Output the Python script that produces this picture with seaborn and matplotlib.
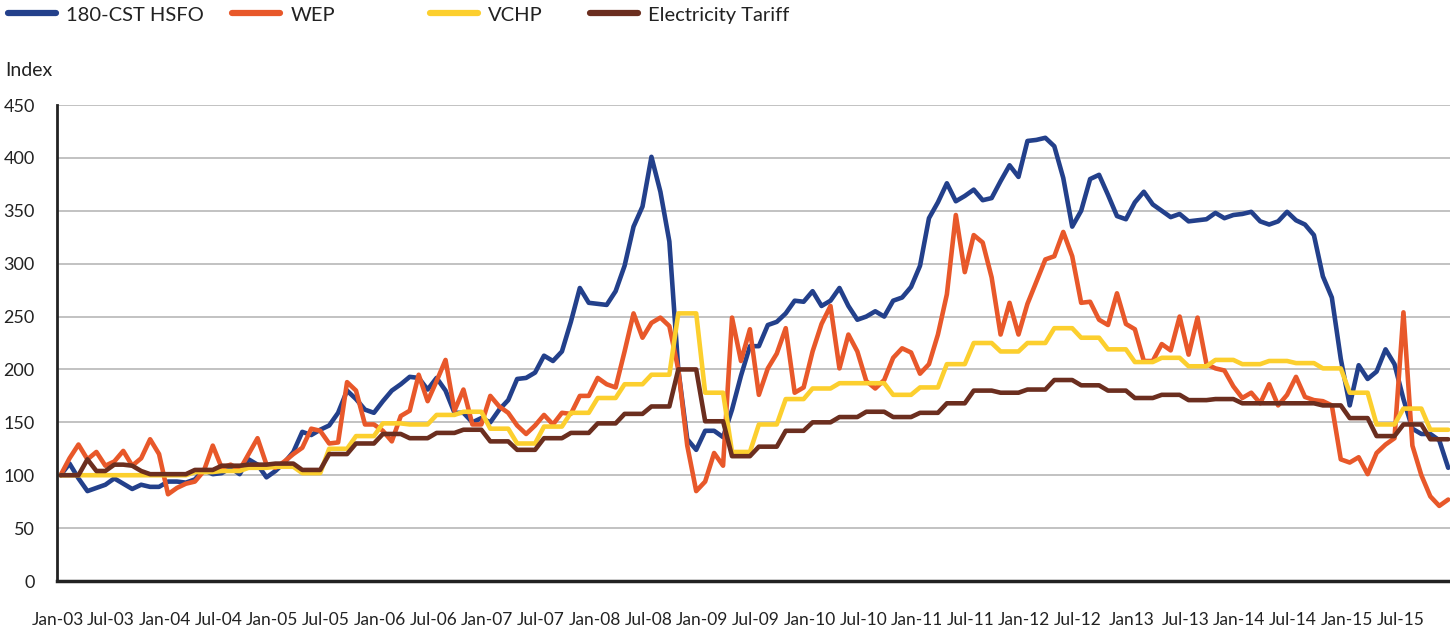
import matplotlib
matplotlib.use('Agg')
import matplotlib.pyplot as plt
from matplotlib.lines import Line2D
import seaborn as sns
import pandas as pd
import numpy as np

# monthly index values, Jan-03 .. Dec-15 (one row per year)
hsfo = [100, 111, 97, 85, 88, 91, 97, 92, 87, 91, 89, 89,
        94, 94, 93, 96, 105, 101, 102, 107, 101, 115, 110, 98,
        104, 112, 122, 141, 138, 143, 147, 159, 180, 172, 162, 159,
        170, 180, 186, 193, 192, 181, 192, 180, 159, 159, 150, 154,
        150, 162, 171, 191, 192, 197, 213, 208, 217, 245, 277, 263,
        262, 261, 274, 298, 335, 354, 401, 368, 321, 200, 134, 124,
        142, 142, 136, 162, 194, 222, 222, 242, 245, 253, 265, 264,
        274, 260, 265, 277, 260, 247, 250, 255, 250, 265, 268, 278,
        298, 343, 358, 376, 359, 364, 370, 360, 362, 378, 393, 382,
        416, 417, 419, 411, 381, 335, 350, 380, 384, 365, 345, 342,
        358, 368, 356, 350, 344, 347, 340, 341, 342, 348, 343, 346,
        347, 349, 340, 337, 340, 349, 341, 337, 327, 288, 268, 210,
        166, 204, 191, 198, 219, 205, 172, 144, 139, 139, 133, 107]

wep = [100, 116, 129, 115, 122, 109, 113, 123, 109, 116, 134, 120,
       82, 88, 92, 94, 104, 128, 107, 110, 105, 120, 135, 110,
       107, 113, 120, 126, 144, 142, 130, 131, 188, 180, 148, 148,
       142, 132, 156, 161, 195, 170, 189, 209, 161, 181, 148, 148,
       175, 165, 159, 147, 139, 147, 157, 148, 159, 158, 175, 175,
       192, 186, 183, 217, 253, 230, 244, 249, 241, 200, 128, 85,
       94, 121, 109, 249, 208, 238, 176, 201, 215, 239, 178, 183,
       217, 243, 260, 201, 233, 217, 189, 182, 190, 211, 220, 216,
       196, 205, 233, 271, 346, 292, 327, 320, 287, 233, 263, 233,
       262, 283, 304, 307, 330, 307, 263, 264, 247, 242, 272, 243,
       238, 208, 208, 224, 218, 250, 214, 249, 205, 201, 199, 184,
       173, 178, 168, 186, 166, 176, 193, 174, 171, 170, 166, 115,
       112, 117, 101, 121, 129, 135, 254, 128, 100, 80, 71, 77]

vchp = [100, 100, 100, 100, 100, 100, 100, 100, 100, 100, 100, 100,
        100, 100, 100, 103, 103, 103, 104, 104, 104, 107, 107, 107,
        108, 108, 108, 102, 102, 102, 125, 125, 125, 137, 137, 137,
        149, 149, 149, 148, 148, 148, 157, 157, 157, 160, 160, 160,
        144, 144, 144, 130, 130, 130, 146, 146, 146, 159, 159, 159,
        173, 173, 173, 186, 186, 186, 195, 195, 195, 253, 253, 253,
        178, 178, 178, 122, 122, 122, 148, 148, 148, 172, 172, 172,
        182, 182, 182, 187, 187, 187, 187, 187, 187, 176, 176, 176,
        183, 183, 183, 205, 205, 205, 225, 225, 225, 217, 217, 217,
        225, 225, 225, 239, 239, 239, 230, 230, 230, 219, 219, 219,
        207, 207, 207, 211, 211, 211, 203, 203, 203, 209, 209, 209,
        205, 205, 205, 208, 208, 208, 206, 206, 206, 201, 201, 201,
        178, 178, 178, 148, 148, 148, 163, 163, 163, 143, 143, 143]

tariff = [100, 100, 100, 115, 104, 104, 110, 110, 109, 104, 101, 101,
          101, 101, 101, 105, 105, 105, 109, 109, 109, 110, 110, 110,
          111, 111, 111, 105, 105, 105, 120, 120, 120, 130, 130, 130,
          139, 139, 139, 135, 135, 135, 140, 140, 140, 143, 143, 143,
          132, 132, 132, 124, 124, 124, 135, 135, 135, 140, 140, 140,
          149, 149, 149, 158, 158, 158, 165, 165, 165, 200, 200, 200,
          151, 151, 151, 118, 118, 118, 127, 127, 127, 142, 142, 142,
          150, 150, 150, 155, 155, 155, 160, 160, 160, 155, 155, 155,
          159, 159, 159, 168, 168, 168, 180, 180, 180, 178, 178, 178,
          181, 181, 181, 190, 190, 190, 185, 185, 185, 180, 180, 180,
          173, 173, 173, 176, 176, 176, 171, 171, 171, 172, 172, 172,
          168, 168, 168, 168, 168, 168, 168, 168, 168, 166, 166, 166,
          154, 154, 154, 137, 137, 137, 148, 148, 148, 134, 134, 134]

tick_labels = ['Jan-03', 'Jul-03', 'Jan-04', 'Jul-04', 'Jan-05', 'Jul-05',
               'Jan-06', 'Jul-06', 'Jan-07', 'Jul-07', 'Jan-08', 'Jul-08',
               'Jan-09', 'Jul-09', 'Jan-10', 'Jul-10', 'Jan-11', 'Jul-11',
               'Jan-12', 'Jul-12', 'Jan13', 'Jul-13', 'Jan-14', 'Jul-14',
               'Jan-15', 'Jul-15']

series_names = ['180-CST HSFO', 'WEP', 'VCHP', 'Electricity Tariff']
colors = ['#23408B', '#E8582A', '#FCCF2E', '#6B2E1F']

df = pd.DataFrame({'month': np.arange(len(hsfo)),
                   '180-CST HSFO': hsfo, 'WEP': wep,
                   'VCHP': vchp, 'Electricity Tariff': tariff})
df = df.melt(id_vars='month', var_name='series', value_name='value')

sns.set_style('white')
plt.rcParams['font.family'] = ['Lato', 'DejaVu Sans']

W, H = 1450, 632
fig = plt.figure(figsize=(W / 100, H / 100), dpi=100)
ax = fig.add_axes([57 / W, 1 - 581 / H, 1 - 57 / W, (581 - 105) / H])

sns.lineplot(data=df, x='month', y='value', hue='series',
             hue_order=series_names, palette=colors, linewidth=3.3,
             legend=False, ax=ax)

ax.set_xlim(-0.4, 155.2)
ax.set_ylim(0, 450)
ax.set_yticks(range(0, 451, 50))
ax.set_xticks(np.arange(0, 156, 6) - 0.35)
ax.set_xticklabels(tick_labels)
ax.set_xlabel('')
ax.set_ylabel('')

ax.yaxis.grid(True, color='#BDBDBD', linewidth=1.3)
ax.set_axisbelow(True)
for s in ['top', 'right']:
    ax.spines[s].set_visible(False)
ax.spines['left'].set_linewidth(2)
ax.spines['bottom'].set_linewidth(2.5)
ax.spines['left'].set_color('#222222')
ax.spines['bottom'].set_color('#222222')

ax.tick_params(axis='y', length=13, width=1.5, pad=3, labelsize=13,
               color='#222222', labelcolor='#222222')
ax.tick_params(axis='x', length=9, width=1.5, pad=13, labelsize=12.5,
               color='#222222', labelcolor='#222222')

fig.text(5 / W, 1 - 70 / H, 'Index', fontsize=14, va='center', ha='left',
         color='#222222')

# legend entries sit at uneven spots along the top
legend_x = [8, 232, 430, 590]
for name, c, x in zip(series_names, colors, legend_x):
    fig.legend(handles=[Line2D([], [], color=c, lw=4.5)], labels=[name],
               loc='center left', bbox_to_anchor=(x / W, 1 - 15 / H),
               frameon=False, handlelength=2.4, handletextpad=0.5,
               borderaxespad=0, borderpad=0, fontsize=14.5,
               labelcolor='#222222')

fig.savefig('out.png', dpi=100)
